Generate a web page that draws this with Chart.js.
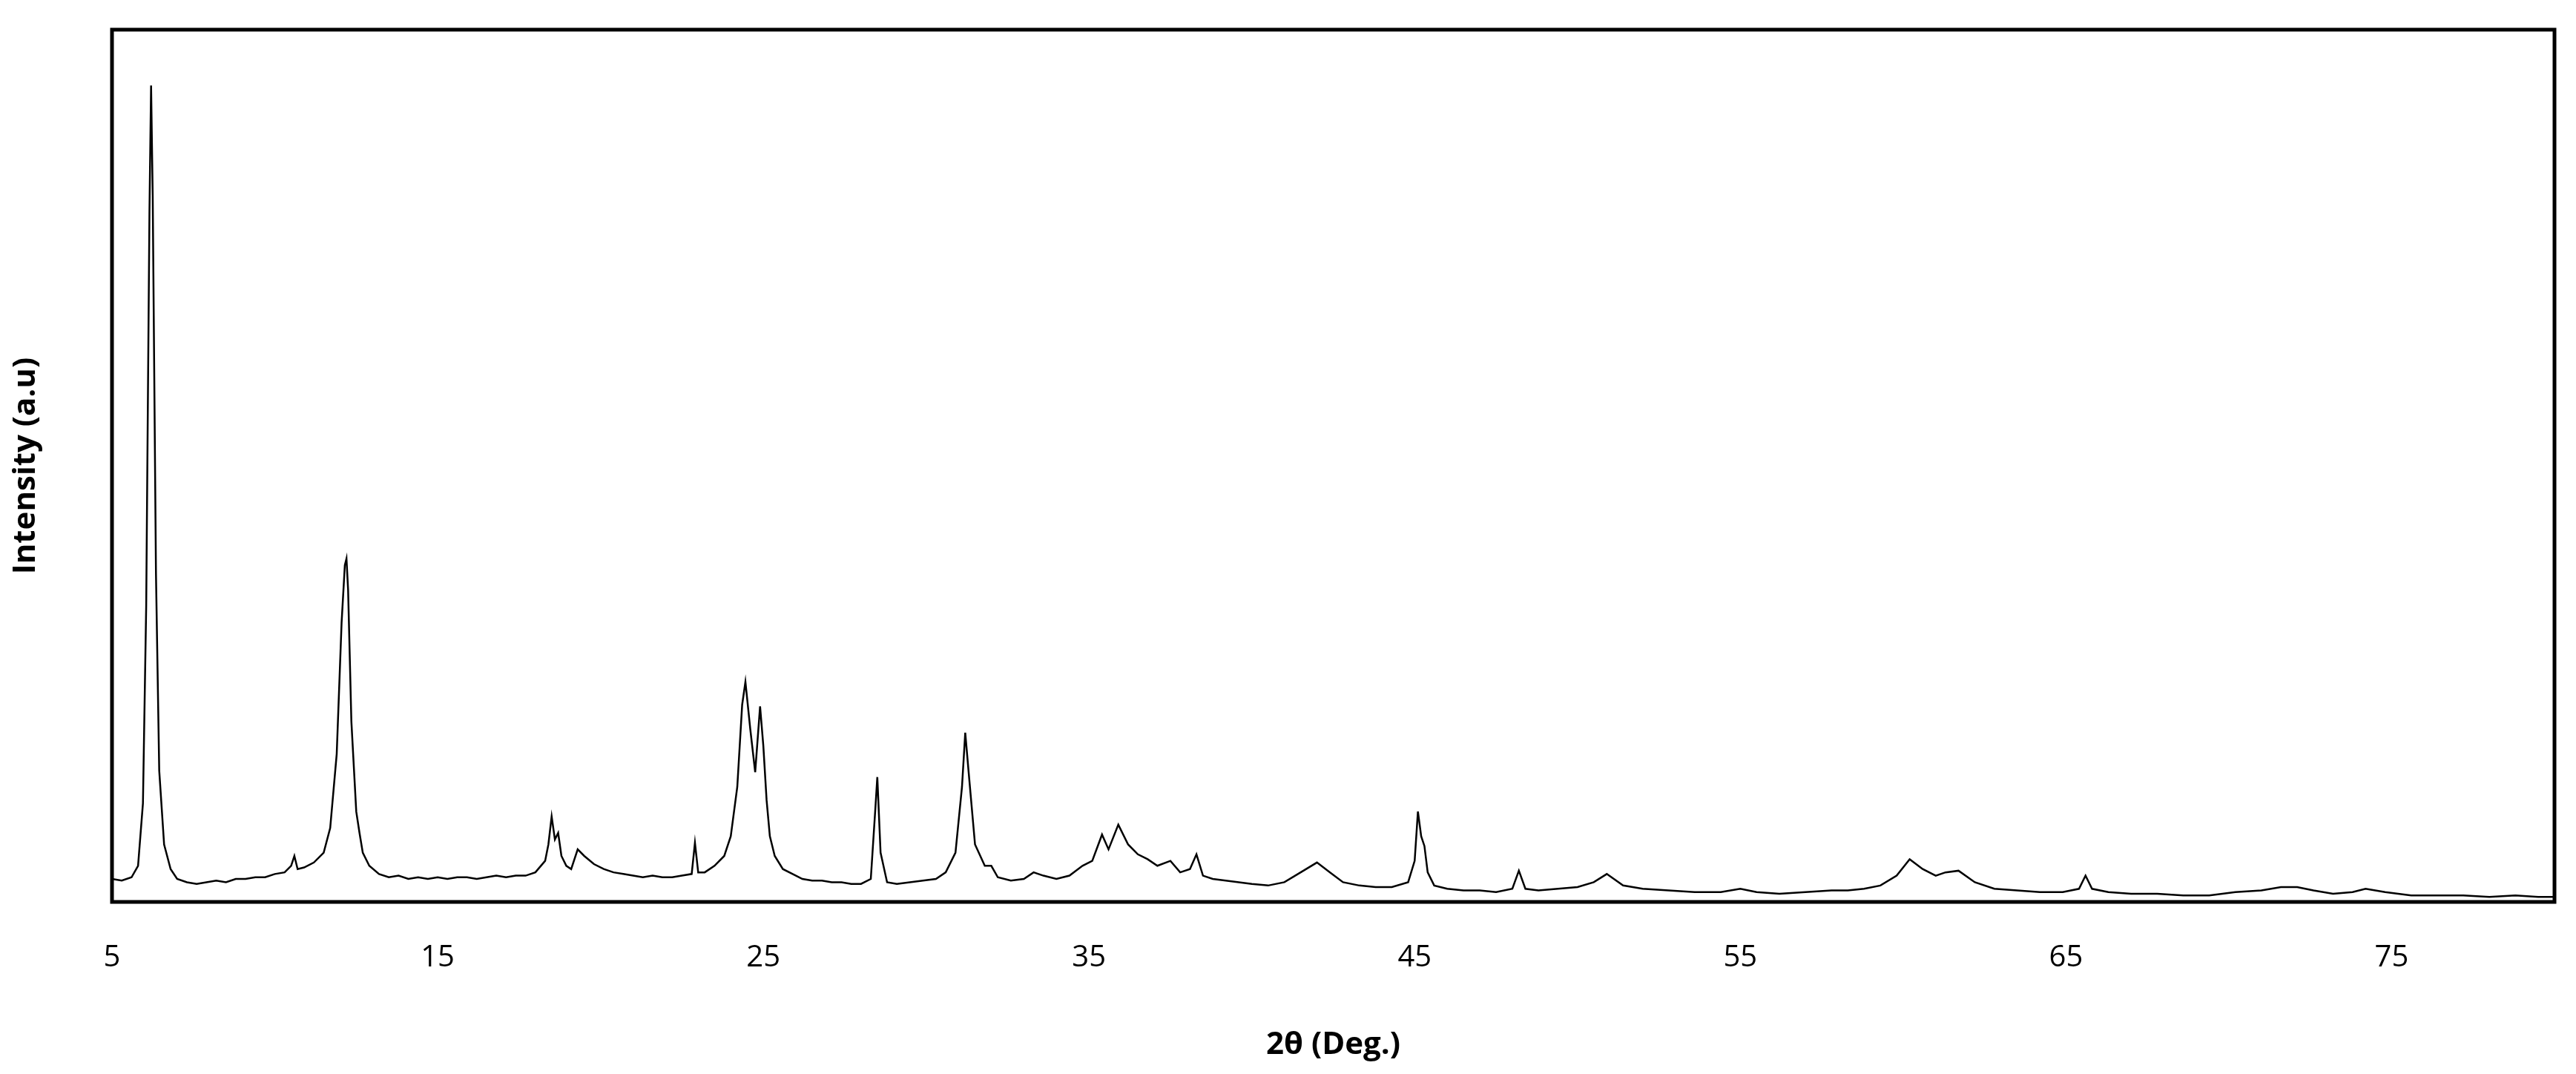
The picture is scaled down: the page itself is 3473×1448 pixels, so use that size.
<!DOCTYPE html>
<html>
<head>
<meta charset="utf-8">
<script src="https://cdn.jsdelivr.net/npm/chart.js@4"></script>
<style>
  html, body { margin: 0; padding: 0; background: #fff; }
  #wrap { width: 3473px; height: 1448px; }
</style>
</head>
<body>
<div id="wrap"><canvas id="c"></canvas></div>
<script>
// diffraction pattern (2θ in degrees, intensity in arbitrary units)
const twoTheta = [
  5.0, 5.3, 5.6, 5.8, 5.95, 6.05, 6.15, 6.2, 6.25, 6.35, 6.45, 6.6, 6.8, 7.0, 7.3, 7.6, 7.9, 8.2, 8.5, 8.8,
  9.1, 9.4, 9.7, 10.0, 10.3, 10.5, 10.6, 10.7, 10.9, 11.2, 11.5, 11.7, 11.9, 12.05, 12.15, 12.2, 12.25, 12.35, 12.5, 12.6,
  12.7, 12.9, 13.2, 13.5, 13.8, 14.1, 14.4, 14.7, 15.0, 15.3, 15.6, 15.9, 16.2, 16.5, 16.8, 17.1, 17.4, 17.7, 18.0, 18.3,
  18.4, 18.5, 18.6, 18.7, 18.8, 18.95, 19.1, 19.3, 19.5, 19.8, 20.1, 20.4, 20.7, 21.0, 21.3, 21.6, 21.9, 22.2, 22.5, 22.8,
  22.9, 23.0, 23.2, 23.5, 23.8, 24.0, 24.2, 24.35, 24.45, 24.6, 24.75, 24.9, 25.0, 25.1, 25.2, 25.35, 25.6, 25.9, 26.2, 26.5,
  26.8, 27.1, 27.4, 27.7, 28.0, 28.3, 28.45, 28.5, 28.6, 28.8, 29.1, 29.5, 29.9, 30.3, 30.6, 30.9, 31.1, 31.2, 31.3, 31.5,
  31.8, 32.0, 32.2, 32.6, 33.0, 33.3, 33.6, 34.0, 34.4, 34.8, 35.1, 35.4, 35.6, 35.9, 36.2, 36.5, 36.8, 37.1, 37.5, 37.8,
  38.1, 38.3, 38.5, 38.8, 39.2, 39.6, 40.0, 40.5, 41.0, 41.5, 42.0, 42.4, 42.8, 43.3, 43.8, 44.3, 44.8, 45.0, 45.1, 45.2,
  45.3, 45.4, 45.6, 46.0, 46.5, 47.0, 47.5, 48.0, 48.2, 48.4, 48.8, 49.4, 50.0, 50.5, 50.9, 51.4, 52.0, 52.8, 53.6, 54.4,
  55.0, 55.5, 56.2, 57.0, 57.8, 58.3, 58.8, 59.3, 59.8, 60.2, 60.6, 61.0, 61.3, 61.7, 62.2, 62.8, 63.5, 64.2, 64.9, 65.4,
  65.6, 65.8, 66.3, 67.0, 67.8, 68.6, 69.4, 70.2, 71.0, 71.6, 72.1, 72.6, 73.2, 73.8, 74.2, 74.8, 75.6, 76.4, 77.2, 78.0,
  78.8, 79.5, 80.0
]
const intensity = [
  14, 13, 15, 22, 60, 180, 420, 497, 430, 200, 80, 35, 20, 14, 12, 11, 12, 13, 12, 14,
  14, 15, 15, 17, 18, 22, 28, 20, 21, 24, 30, 45, 90, 170, 205, 209, 190, 110, 55, 42,
  30, 22, 17, 15, 16, 14, 15, 14, 15, 14, 15, 15, 14, 15, 16, 15, 16, 16, 18, 25,
  35, 52, 38, 42, 28, 22, 20, 32, 28, 23, 20, 18, 17, 16, 15, 16, 15, 15, 16, 17,
  36, 18, 18, 22, 28, 40, 70, 120, 134, 105, 79, 119, 95, 62, 40, 28, 20, 17, 14, 13,
  13, 12, 12, 11, 11, 14, 60, 76, 30, 12, 11, 12, 13, 14, 18, 30, 70, 103, 80, 35,
  22, 22, 15, 13, 14, 18, 16, 14, 16, 22, 25, 41, 32, 47, 35, 29, 26, 22, 25, 18,
  20, 29, 16, 14, 13, 12, 11, 10, 12, 18, 24, 18, 12, 10, 9, 9, 12, 25, 55, 40,
  34, 18, 10, 8, 7, 7, 6, 8, 19, 8, 7, 8, 9, 12, 17, 10, 8, 7, 6, 6,
  8, 6, 5, 6, 7, 7, 8, 10, 16, 26, 20, 16, 18, 19, 12, 8, 7, 6, 6, 8,
  16, 8, 6, 5, 5, 4, 4, 6, 7, 9, 9, 7, 5, 6, 8, 6, 4, 4, 4, 3,
  4, 3, 3
]
const xTicks = [5, 15, 25, 35, 45, 55, 65, 75]

const frame = {
  id: 'frame',
  afterDraw(chart) {
    const { ctx, chartArea: a } = chart
    ctx.save()
    ctx.strokeStyle = '#000'
    ctx.lineWidth = 5
    ctx.strokeRect(a.left, a.top, a.right - a.left, a.bottom - a.top)
    ctx.restore()
  }
}

new Chart(document.getElementById('c'), {
  type: 'line',
  data: {
    datasets: [{
      data: twoTheta.map((x, i) => ({ x: x, y: intensity[i] })),
      borderColor: '#000',
      borderWidth: 2.5,
      pointRadius: 0,
      tension: 0,
      fill: false
    }]
  },
  options: {
    responsive: true,
    maintainAspectRatio: false,
    animation: false,
    layout: { padding: { top: 40, right: 29, bottom: 10, left: 0 } },
    plugins: { legend: { display: false }, tooltip: { enabled: false } },
    scales: {
      x: {
        type: 'linear',
        min: 5,
        max: 80,
        afterBuildTicks: axis => { axis.ticks = xTicks.map(v => ({ value: v })) },
        grid: { display: false, drawTicks: false },
        border: { display: false },
        ticks: { color: '#000', padding: 52, font: { family: 'Open Sans', size: 40 } },
        title: { display: true, text: '2θ (Deg.)', color: '#000', padding: { top: 28 }, font: { family: 'Open Sans', size: 42, weight: 'bold' } },
        afterFit: axis => { axis.height = 222 }
      },
      y: {
        min: 0,
        max: 531,
        grid: { display: false, drawTicks: false },
        border: { display: false },
        ticks: { display: false },
        title: { display: true, text: 'Intensity (a.u)', color: '#000', padding: { top: 10, bottom: 0 }, font: { family: 'Open Sans', size: 42, weight: 'bold' } },
        afterFit: axis => { axis.width = 151 }
      }
    }
  },
  plugins: [frame]
})
</script>
</body>
</html>
